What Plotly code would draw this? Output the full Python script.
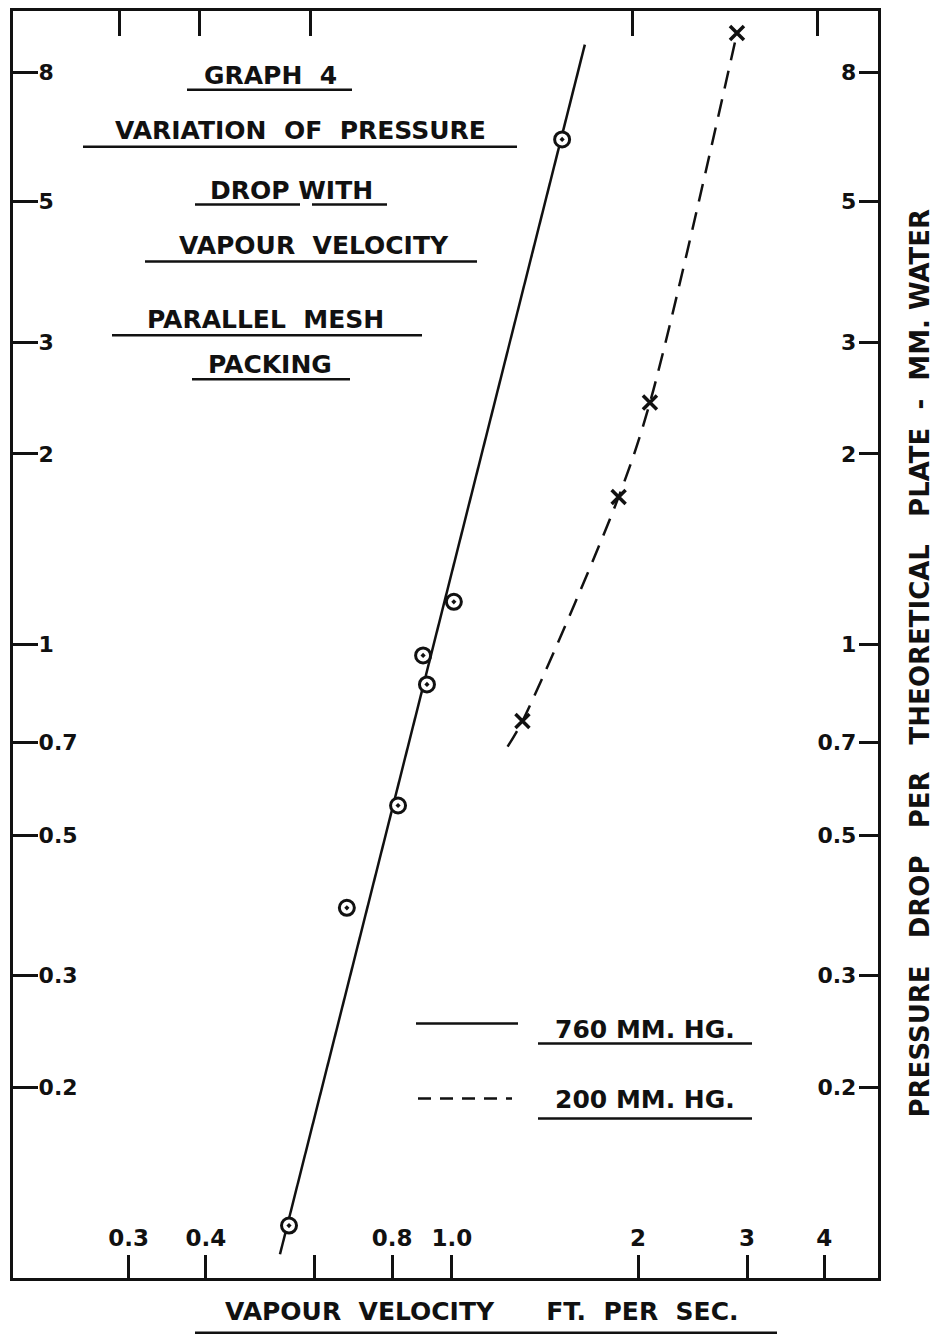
import plotly.graph_objects as go

# ---------------- data ----------------
# 760 mm Hg (circles, solid fitted line)
v760 = [0.545, 0.676, 0.818, 0.898, 0.911, 1.007, 1.507]
dp760 = [0.121, 0.384, 0.557, 0.961, 0.865, 1.168, 6.27]
fit760_v = [0.527, 1.64]
fit760_dp = [0.109, 8.85]

# 200 mm Hg (crosses, dashed curve)
v200 = [1.30, 1.86, 2.09, 2.89]
dp200 = [0.757, 1.71, 2.41, 9.23]
curve200_v = [1.23, 1.30, 1.86, 2.09, 2.87]
curve200_dp = [0.69, 0.757, 1.71, 2.41, 8.95]

# axis ticks
x_tickvals = [0.3, 0.4, 0.6, 0.8, 1.0, 2, 3, 4]
x_ticktext = ["0.3", "0.4", "", "0.8", "1.0", "2", "3", "4"]
x_top_tickvals = [0.29, 0.39, 0.59, 1.96, 3.9]
y_tickvals = [0.2, 0.3, 0.5, 0.7, 1, 2, 3, 5, 8]
y_ticktext = ["0.2", "0.3", "0.5", "0.7", "1", "2", "3", "5", "8"]

# texts
title_lines = ["GRAPH  4", "VARIATION  OF  PRESSURE", "DROP WITH",
               "VAPOUR  VELOCITY", "PARALLEL  MESH", "PACKING"]
legend_labels = ["760 MM. HG.", "200 MM. HG."]
x_title = "VAPOUR  VELOCITY      FT.  PER  SEC."
y_title = "PRESSURE   DROP   PER   THEORETICAL   PLATE  -  MM. WATER"

# ---------------- layout helpers ----------------
# the page body has an 8 px margin, so the figure starts at page (8, 8)
OFF = 8
W, H = 939 - OFF, 1344 - OFF
L, R, T, B = 13, 878, 8, 1278          # plot frame in page pixels
def px(x):
    return (x - L) / (R - L)
def py(y):
    return (B - y) / (B - T)

FONT = "DejaVu Sans"
INK = "#111111"

fig = go.Figure()

fig.add_trace(go.Scatter(x=fit760_v, y=fit760_dp, mode="lines",
                         line=dict(color=INK, width=2.5), showlegend=False,
                         hoverinfo="skip"))
fig.add_trace(go.Scatter(x=curve200_v, y=curve200_dp, mode="lines",
                         line=dict(color=INK, width=2.5, dash="18px,11px",
                                   shape="spline", smoothing=0.9),
                         showlegend=False, hoverinfo="skip"))
fig.add_trace(go.Scatter(x=v760, y=dp760, mode="markers", name="760 MM. HG.",
                         marker=dict(symbol="circle-dot", size=15, color="white",
                                     line=dict(color=INK, width=3)),
                         showlegend=False))
fig.add_trace(go.Scatter(x=v200, y=dp200, mode="markers", name="200 MM. HG.",
                         marker=dict(symbol="x-thin", size=14, color=INK,
                                     line=dict(color=INK, width=3.5)),
                         showlegend=False))
# invisible helpers so the secondary axes are drawn
fig.add_trace(go.Scatter(x=[1], y=[1], xaxis="x2", yaxis="y", mode="markers",
                         marker=dict(opacity=0), showlegend=False, hoverinfo="skip"))
fig.add_trace(go.Scatter(x=[1], y=[1], xaxis="x", yaxis="y2", mode="markers",
                         marker=dict(opacity=0), showlegend=False, hoverinfo="skip"))

xr = [-0.710, 0.689]
yr = [-1, 1]

fig.update_layout(
    width=W, height=H, autosize=False,
    margin=dict(l=L - OFF, r=W - (R - OFF), t=T - OFF, b=H - (B - OFF)),
    paper_bgcolor="white", plot_bgcolor="white",
    font=dict(family=FONT, color=INK),
    xaxis=dict(type="log", range=xr, showgrid=False, zeroline=False,
               showline=True, linewidth=3, linecolor=INK, mirror=True,
               tickvals=x_tickvals, ticktext=x_ticktext,
               ticks="inside", ticklen=23, tickwidth=2.5, tickcolor=INK,
               ticklabelposition="inside", ticklabelstandoff=6,
               ticklabeloverflow="allow",
               tickfont=dict(size=23, family=FONT, color=INK, weight="bold")),
    xaxis2=dict(type="log", range=xr, overlaying="x", side="top", anchor="y",
                showgrid=False, zeroline=False, showline=False,
                tickvals=x_top_tickvals, showticklabels=False,
                ticks="inside", ticklen=25, tickwidth=2.5, tickcolor=INK),
    yaxis=dict(type="log", range=yr, showgrid=False, zeroline=False,
               showline=True, linewidth=3, linecolor=INK, mirror=True,
               tickvals=y_tickvals, ticktext=y_ticktext,
               ticks="inside", ticklen=25, tickwidth=2.5, tickcolor=INK,
               ticklabelposition="inside", ticklabelstandoff=2,
               ticklabeloverflow="allow",
               tickfont=dict(size=22, family=FONT, color=INK, weight="bold")),
    yaxis2=dict(type="log", range=yr, overlaying="y", side="right", anchor="x",
                showgrid=False, zeroline=False, showline=False,
                tickvals=y_tickvals, ticktext=y_ticktext,
                ticks="inside", ticklen=19, tickwidth=2.5, tickcolor=INK,
                ticklabelposition="inside", ticklabelstandoff=4,
                ticklabeloverflow="allow",
                tickfont=dict(size=22, family=FONT, color=INK, weight="bold")),
)

annotations = []
shapes = []

def underline(x0, x1, uy, color=INK, width=2.5):
    shapes.append(dict(type="line", xref="paper", yref="paper",
                       x0=px(x0), x1=px(x1), y0=py(uy), y1=py(uy),
                       line=dict(color=color, width=width)))

def add_text(text, cx, cy, size, uls=(), angle=0):
    annotations.append(dict(text=text, x=px(cx), y=py(cy), xref="paper", yref="paper",
                            showarrow=False, xanchor="center", yanchor="middle",
                            textangle=angle,
                            font=dict(family=FONT, size=size, color=INK, weight="bold")))
    for (x0, x1, uy) in uls:
        underline(x0, x1, uy)

# title block
title_pos = [(270, 73, [(187, 352, 87)]),
             (300, 128, [(83, 517, 144)]),
             (291, 188, [(195, 300, 202), (312, 387, 202)]),
             (314, 243, [(145, 477, 259)]),
             (265, 317, [(112, 422, 333)]),
             (270, 362, [(192, 350, 377)])]
for txt, (cx, cy, uls) in zip(title_lines, title_pos):
    add_text(txt, cx, cy, 25, uls)

# legend
add_text(legend_labels[0], 645, 1029, 25, [(538, 752, 1043)])
add_text(legend_labels[1], 645, 1099, 25, [(538, 752, 1118)])
shapes.append(dict(type="line", xref="paper", yref="paper",
                   x0=px(416), x1=px(518), y0=py(1023), y1=py(1023),
                   line=dict(color=INK, width=2.5)))
shapes.append(dict(type="line", xref="paper", yref="paper",
                   x0=px(418), x1=px(512), y0=py(1098), y1=py(1098),
                   line=dict(color=INK, width=2.5, dash="13px,9px")))

# axis titles
add_text(x_title, 482, 1312, 25, [(195, 777, 1333)])
add_text(y_title, 920, 662, 26, angle=-90)
shapes.append(dict(type="line", xref="paper", yref="paper",
                   x0=px(935), x1=px(935), y0=py(190), y1=py(1135),
                   line=dict(color="#bbbbbb", width=1)))

fig.update_layout(annotations=annotations, shapes=shapes)

fig.write_html("out.html")
